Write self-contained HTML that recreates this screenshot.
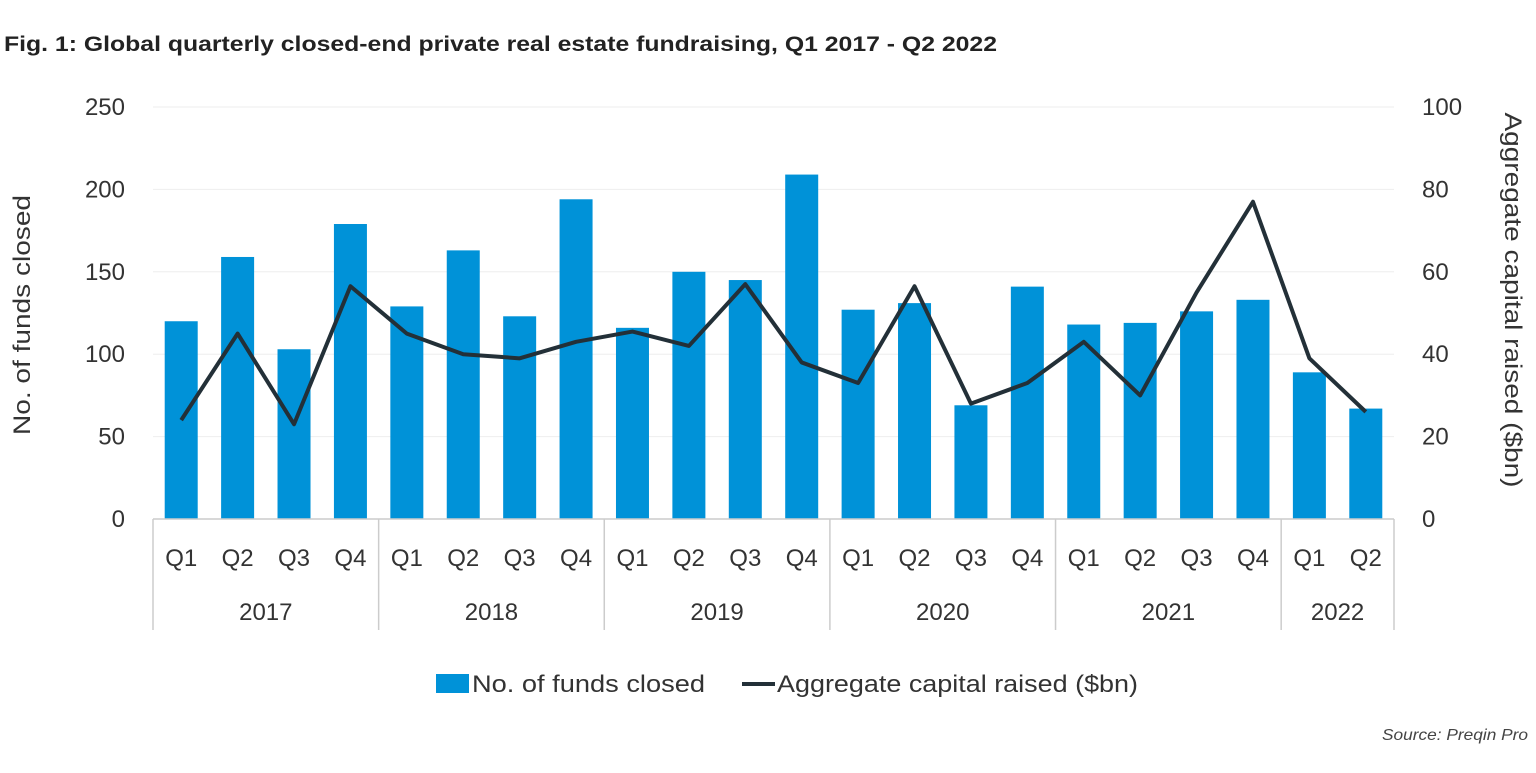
<!DOCTYPE html>
<html><head><meta charset="utf-8"><style>
body{margin:0;background:#fff;font-family:"Liberation Sans",sans-serif;}
</style></head><body>
<svg width="1536" height="768" xmlns="http://www.w3.org/2000/svg" font-family="Liberation Sans, sans-serif">
<text x="4" y="51" font-size="21" font-weight="bold" fill="#222" textLength="993" lengthAdjust="spacingAndGlyphs">Fig. 1: Global quarterly closed-end private real estate fundraising, Q1 2017 - Q2 2022</text>
<g id="grid"></g><g id="bars"></g><g id="line"></g><g id="axes"></g>
<text transform="translate(30,315) rotate(-90)" text-anchor="middle" font-size="24" fill="#333" textLength="240" lengthAdjust="spacingAndGlyphs">No. of funds closed</text>
<text transform="translate(1505,300) rotate(90)" text-anchor="middle" font-size="24" fill="#333" textLength="375" lengthAdjust="spacingAndGlyphs">Aggregate capital raised ($bn)</text>
<g>
<rect x="436" y="674" width="33" height="19" fill="#0092d8"/>
<text x="472" y="692" font-size="24" fill="#333" textLength="233" lengthAdjust="spacingAndGlyphs">No. of funds closed</text>
<line x1="742" y1="684" x2="775" y2="684" stroke="#233038" stroke-width="4"/>
<text x="777" y="692" font-size="24" fill="#333" textLength="361" lengthAdjust="spacingAndGlyphs">Aggregate capital raised ($bn)</text>
</g>
<text x="1382" y="740" font-size="16" font-style="italic" fill="#444" textLength="146" lengthAdjust="spacingAndGlyphs">Source: Preqin Pro</text>
</svg>
<script>
const quarters=["Q1","Q2","Q3","Q4","Q1","Q2","Q3","Q4","Q1","Q2","Q3","Q4","Q1","Q2","Q3","Q4","Q1","Q2","Q3","Q4","Q1","Q2"];
const years=["2017","2018","2019","2020","2021","2022"];
const yearCounts=[4,4,4,4,4,2];
const funds=[120,159,103,179,129,163,123,194,116,150,145,209,127,131,69,141,118,119,126,133,89,67];
const capital=[24,45,23,56.5,45,40,39,43,45.5,42,57,38,33,56.5,28,33,43,30,55,77,39,26];
const leftTicks=[0,50,100,150,200,250];
const rightTicks=[0,20,40,60,80,100];
const NS="http://www.w3.org/2000/svg";
const x0=153,x1=1394,y0=519,y1=107,step=(x1-x0)/quarters.length;
const xc=i=>x0+step*(i+0.5);
const yL=v=>y0-(v/250)*(y0-y1);
const yR=v=>y0-(v/100)*(y0-y1);
function mk(t,a,p){const e=document.createElementNS(NS,t);for(const k in a)e.setAttribute(k,a[k]);p.appendChild(e);return e;}
const grid=document.getElementById('grid'),bars=document.getElementById('bars'),line=document.getElementById('line'),axes=document.getElementById('axes');
leftTicks.forEach((v,i)=>{
 if(v>0){const g=mk('line',{x1:x0,x2:x1,y1:yL(v),y2:yL(v),stroke:'#eee','stroke-width':1},grid);
 
 }
 const t=mk('text',{x:125,y:yL(v)+8,'text-anchor':'end','font-size':24,fill:'#333'},axes);t.textContent=v;
 
 
});
rightTicks.forEach(v=>{
 const t=mk('text',{x:1422,y:yR(v)+8,'font-size':24,fill:'#333'},axes);t.textContent=v;
 
 
});
funds.forEach((v,i)=>{
 const r=mk('rect',{x:xc(i)-16.5,y:yL(v),width:33,height:y0-yL(v),fill:'#0092d8'},bars);
 
 
});
const pl=mk('polyline',{points:capital.map((v,i)=>xc(i)+','+yR(v)).join(' '),fill:'none',stroke:'#233038','stroke-width':4,'stroke-linejoin':'round'},line);


const ax=mk('line',{x1:x0,x2:x1,y1:y0,y2:y0,stroke:'#ccc','stroke-width':1.5},axes);


quarters.forEach((q,i)=>{
 const t=mk('text',{x:xc(i),y:566,'text-anchor':'middle','font-size':24,fill:'#333'},axes);t.textContent=q;
 
 
});
let idx=0;
const sep=i=>{const l=mk('line',{x1:x0+step*i,x2:x0+step*i,y1:y0,y2:630,stroke:'#ccc','stroke-width':1.5},axes);
 
 };
sep(0);
years.forEach((y,k)=>{
 const c=yearCounts[k];
 const t=mk('text',{x:x0+step*(idx+c/2),y:620,'text-anchor':'middle','font-size':24,fill:'#333'},axes);t.textContent=y;
 
 
 idx+=c;sep(idx);
});
</script>
</body></html>
